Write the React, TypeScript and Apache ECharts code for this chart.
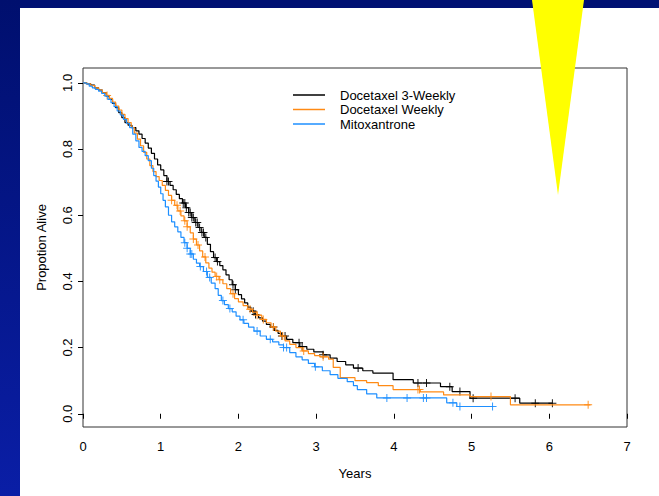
import { useEffect, useRef } from "react";
import * as echarts from "echarts";

// ---------- data ----------
const seriesNames = ["Docetaxel 3-Weekly", "Docetaxel Weekly", "Mitoxantrone"];
const seriesColors = ["#000000", "#ff8a14", "#1e8fff"];

const xTicks = [0, 1, 2, 3, 4, 5, 6, 7];
const yTicks = [0, 0.2, 0.4, 0.6, 0.8, 1.0];

// Docetaxel 3-weekly (Kaplan-Meier steps: time, survival)
const d3wTimes = [0, 0.05, 0.10, 0.15, 0.20, 0.25, 0.30, 0.34, 0.38, 0.42, 0.46, 0.50, 0.54, 0.58, 0.63, 0.68, 0.72, 0.76, 0.80, 0.84, 0.88, 0.92, 0.96, 1.00, 1.04, 1.08, 1.12, 1.16, 1.20, 1.24, 1.28, 1.32, 1.36, 1.40, 1.44, 1.48, 1.52, 1.56, 1.60, 1.64, 1.68, 1.72, 1.76, 1.80, 1.84, 1.88, 1.92, 1.96, 2.00, 2.04, 2.08, 2.12, 2.16, 2.21, 2.26, 2.31, 2.36, 2.41, 2.46, 2.51, 2.56, 2.62, 2.70, 2.79, 2.88, 2.97, 3.09, 3.18, 3.27, 3.38, 3.48, 3.60, 3.73, 3.99, 4.25, 4.60, 4.75, 4.98, 5.62, 6.04];
const d3wSurv = [1.0, 0.997, 0.993, 0.985, 0.978, 0.97, 0.96, 0.95, 0.938, 0.925, 0.91, 0.895, 0.88, 0.872, 0.865, 0.855, 0.845, 0.832, 0.818, 0.803, 0.787, 0.77, 0.752, 0.737, 0.72, 0.702, 0.69, 0.677, 0.663, 0.65, 0.637, 0.623, 0.608, 0.593, 0.578, 0.563, 0.548, 0.533, 0.512, 0.49, 0.472, 0.46, 0.448, 0.435, 0.42, 0.405, 0.39, 0.375, 0.36, 0.347, 0.335, 0.322, 0.31, 0.30, 0.29, 0.28, 0.27, 0.262, 0.252, 0.243, 0.235, 0.225, 0.215, 0.203, 0.195, 0.187, 0.178, 0.168, 0.158, 0.148, 0.138, 0.13, 0.123, 0.103, 0.093, 0.082, 0.067, 0.047, 0.032, 0.032];
const d3wCensor = [1.08, 1.10, 1.29, 1.31, 1.33, 1.36, 1.38, 1.40, 1.42, 1.45, 1.47, 1.50, 1.53, 1.55, 1.58, 1.70, 1.73, 1.93, 1.96, 2.19, 2.22, 2.45, 2.56, 2.60, 2.78, 2.82, 3.09, 3.54, 4.31, 4.42, 4.72, 4.85, 5.02, 5.56, 5.82, 6.04];

// Docetaxel weekly
const dwTimes = [0, 0.05, 0.10, 0.15, 0.20, 0.25, 0.30, 0.34, 0.38, 0.42, 0.46, 0.50, 0.54, 0.58, 0.62, 0.66, 0.70, 0.74, 0.78, 0.82, 0.86, 0.90, 0.94, 0.98, 1.02, 1.06, 1.10, 1.14, 1.18, 1.22, 1.26, 1.30, 1.34, 1.38, 1.42, 1.46, 1.50, 1.54, 1.58, 1.62, 1.66, 1.70, 1.75, 1.80, 1.85, 1.90, 1.95, 2.00, 2.06, 2.12, 2.18, 2.24, 2.30, 2.36, 2.42, 2.48, 2.54, 2.60, 2.66, 2.74, 2.82, 2.90, 2.98, 3.05, 3.16, 3.22, 3.31, 3.50, 3.65, 3.80, 3.99, 4.34, 4.64, 4.98, 5.50, 6.53];
const dwSurv = [1.0, 0.997, 0.992, 0.985, 0.978, 0.97, 0.962, 0.953, 0.942, 0.93, 0.918, 0.905, 0.892, 0.88, 0.865, 0.848, 0.83, 0.81, 0.79, 0.77, 0.75, 0.732, 0.717, 0.705, 0.69, 0.675, 0.66, 0.645, 0.63, 0.613, 0.598, 0.583, 0.565, 0.547, 0.528, 0.51, 0.492, 0.474, 0.456, 0.44, 0.428, 0.415, 0.405, 0.393, 0.378, 0.363, 0.348, 0.338, 0.327, 0.316, 0.307, 0.298, 0.285, 0.275, 0.262, 0.25, 0.235, 0.22, 0.21, 0.20, 0.19, 0.182, 0.176, 0.172, 0.165, 0.14, 0.109, 0.10, 0.094, 0.085, 0.073, 0.066, 0.057, 0.052, 0.027, 0.027];
const dwCensor = [0.31, 1.14, 1.21, 1.25, 1.31, 1.34, 1.42, 1.48, 1.57, 1.72, 1.76, 1.93, 2.15, 2.24, 2.32, 2.45, 2.57, 2.84, 3.09, 4.31, 4.33, 5.25, 6.50];

// Mitoxantrone
const mxTimes = [0, 0.04, 0.08, 0.12, 0.16, 0.20, 0.24, 0.28, 0.32, 0.36, 0.40, 0.44, 0.48, 0.52, 0.56, 0.60, 0.64, 0.68, 0.72, 0.76, 0.80, 0.84, 0.88, 0.91, 0.94, 0.97, 1.00, 1.03, 1.06, 1.10, 1.14, 1.18, 1.22, 1.26, 1.30, 1.34, 1.38, 1.42, 1.46, 1.50, 1.55, 1.60, 1.65, 1.70, 1.74, 1.78, 1.82, 1.87, 1.92, 1.97, 2.02, 2.07, 2.13, 2.20, 2.28, 2.36, 2.44, 2.52, 2.58, 2.66, 2.74, 2.82, 2.90, 2.98, 3.08, 3.18, 3.28, 3.40, 3.48, 3.53, 3.65, 3.78, 4.68, 4.81, 5.28];
const mxSurv = [1.0, 0.997, 0.99, 0.985, 0.98, 0.975, 0.968, 0.96, 0.95, 0.94, 0.928, 0.915, 0.903, 0.89, 0.878, 0.865, 0.845, 0.825, 0.805, 0.793, 0.78, 0.765, 0.742, 0.72, 0.703, 0.685, 0.665, 0.645, 0.625, 0.60, 0.58, 0.565, 0.55, 0.533, 0.517, 0.50, 0.483, 0.467, 0.455, 0.445, 0.43, 0.412, 0.395, 0.378, 0.358, 0.342, 0.33, 0.318, 0.308, 0.295, 0.284, 0.273, 0.262, 0.25, 0.235, 0.225, 0.217, 0.208, 0.20, 0.185, 0.172, 0.163, 0.152, 0.142, 0.13, 0.118, 0.107, 0.097, 0.085, 0.073, 0.06, 0.048, 0.033, 0.022, 0.022];
const mxCensor = [1.31, 1.34, 1.38, 1.40, 1.51, 1.59, 1.63, 1.80, 1.89, 2.06, 2.24, 2.41, 2.58, 2.62, 2.99, 3.91, 4.17, 4.38, 4.42, 4.76, 4.85, 5.27];

// ---------- helpers ----------
const FONT = "'Liberation Sans', Arial, Helvetica, sans-serif";
const PLUS = "path://M3.5,0H4.5V3.5H8V4.5H4.5V8H3.5V4.5H0V3.5H3.5Z";

function stepValue(times: number[], surv: number[], t: number): number {
  let v = surv[0];
  for (let i = 0; i < times.length; i++) {
    if (times[i] <= t + 1e-9) v = surv[i];
    else break;
  }
  return v;
}

const groups = [
  { times: d3wTimes, surv: d3wSurv, censor: d3wCensor },
  { times: dwTimes, surv: dwSurv, censor: dwCensor },
  { times: mxTimes, surv: mxSurv, censor: mxCensor },
];

export default function App() {
  const ref = useRef<HTMLDivElement>(null);

  useEffect(() => {
    if (!ref.current) return;
    const chart = echarts.init(ref.current, null, { renderer: "svg" });

    const series: any[] = [];
    groups.forEach((g, i) => {
      series.push({
        type: "line",
        name: seriesNames[i],
        data: g.times.map((t, k) => [t, g.surv[k]]),
        step: "end",
        symbol: "none",
        showSymbol: false,
        silent: true,
        lineStyle: { color: seriesColors[i], width: 1.2 },
        itemStyle: { color: seriesColors[i] },
        z: 2 + i,
      });
      series.push({
        type: "scatter",
        name: seriesNames[i] + " censored",
        data: g.censor.map((c) => [c, stepValue(g.times, g.surv, c)]),
        symbol: PLUS,
        symbolSize: 8,
        silent: true,
        itemStyle: { color: seriesColors[i], opacity: 0.9 },
        z: 2 + i,
      });
    });

    chart.setOption({
      animation: false,
      backgroundColor: "#ffffff",
      textStyle: { fontFamily: FONT },
      grid: {
        left: 83,
        right: 32,
        top: 68,
        bottom: 69,
        show: true,
        borderColor: "#333333",
        borderWidth: 1,
        backgroundColor: "transparent",
      },
      legend: {
        data: seriesNames.map((n) => ({ name: n, icon: "rect" })),
        orient: "vertical",
        left: 293,
        top: 88,
        padding: 0,
        itemWidth: 32,
        itemHeight: 1.5,
        itemGap: 0.5,
        selectedMode: false,
        textStyle: {
          fontFamily: FONT,
          fontSize: 13,
          color: "#000",
          lineHeight: 14,
          padding: [0, 0, 0, 10],
        },
      },
      xAxis: {
        type: "value",
        min: xTicks[0],
        max: xTicks[xTicks.length - 1],
        interval: 1,
        axisLine: { show: false },
        splitLine: { show: false },
        axisTick: { show: true, length: 5, lineStyle: { color: "#000" } },
        axisLabel: { margin: 13, fontSize: 13, color: "#000", fontFamily: FONT },
        name: "Years",
        nameLocation: "middle",
        nameGap: 40,
        nameTextStyle: { fontSize: 13, color: "#000", fontFamily: FONT },
      },
      yAxis: {
        type: "value",
        min: -0.04,
        max: 1.045,
        axisLine: { show: false },
        splitLine: { show: false },
        axisTick: { show: true, customValues: yTicks, length: 5, lineStyle: { color: "#000" } },
        axisLabel: {
          customValues: yTicks,
          rotate: 90,
          margin: 9,
          fontSize: 13,
          color: "#000",
          fontFamily: FONT,
          formatter: (v: number) => v.toFixed(1),
        },
        name: "Propotion Alive",
        nameLocation: "middle",
        nameGap: 35,
        nameRotate: 90,
        nameTextStyle: { fontSize: 13, color: "#000", fontFamily: FONT },
      },
      graphic: [
        {
          type: "rect",
          shape: { x: 0, y: 0, width: 659, height: 8 },
          style: { fill: "#001173" },
          silent: true,
          z: 50,
        },
        {
          type: "rect",
          shape: { x: 0, y: 0, width: 20, height: 496 },
          style: {
            fill: {
              type: "linear",
              x: 0,
              y: 0,
              x2: 0,
              y2: 1,
              colorStops: [
                { offset: 0, color: "#000f6e" },
                { offset: 1, color: "#0a1ea6" },
              ],
            },
          },
          silent: true,
          z: 50,
        },
        {
          type: "polygon",
          shape: { points: [[532, 0], [584, 0], [558, 195]] },
          style: { fill: "#ffff00" },
          silent: true,
          z: 100,
        },
      ],
      series,
    });

    return () => chart.dispose();
  }, []);

  return (
    <div
      ref={ref}
      style={{ position: "absolute", left: 0, top: 0, width: 659, height: 496 }}
    />
  );
}
